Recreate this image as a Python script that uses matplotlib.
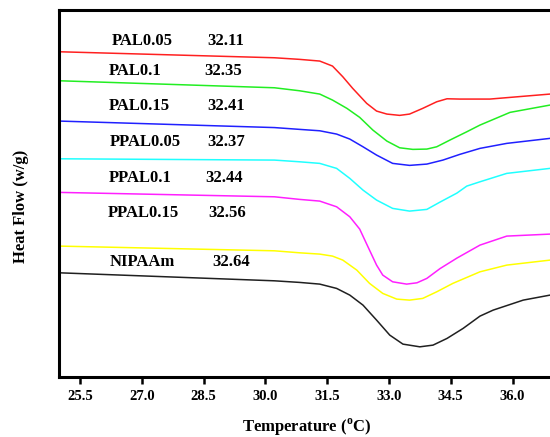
import numpy as np
import matplotlib
matplotlib.use("Agg")
import matplotlib.pyplot as plt

plt.rcParams['font.family'] = 'Liberation Serif'
plt.rcParams['font.weight'] = 'bold'
plt.rcParams['mathtext.fontset'] = 'custom'
plt.rcParams['mathtext.rm'] = 'Liberation Serif:bold'
plt.rcParams['mathtext.bf'] = 'Liberation Serif:bold'

# DSC curves (temperature in C, heat flow in arbitrary offset units)
t_pal005 = [25.0, 30.22, 30.83, 31.32, 31.63, 31.88, 32.12, 32.46, 32.70, 32.95, 33.26, 33.50, 33.82, 34.16, 34.41, 34.72, 35.45, 36.91]
h_pal005 = [3.253, 3.193, 3.177, 3.16, 3.11, 3.003, 2.887, 2.737, 2.66, 2.63, 2.617, 2.63, 2.687, 2.753, 2.783, 2.78, 2.78, 2.83]

t_pal01 = [25.0, 30.22, 30.83, 31.32, 31.63, 31.98, 32.29, 32.61, 32.95, 33.26, 33.58, 33.92, 34.16, 34.48, 34.89, 35.21, 35.94, 36.91]
h_pal01 = [2.963, 2.893, 2.863, 2.83, 2.77, 2.687, 2.597, 2.47, 2.36, 2.293, 2.277, 2.28, 2.303, 2.37, 2.453, 2.52, 2.647, 2.72]

t_pal015 = [25.0, 30.22, 30.83, 31.32, 31.73, 32.05, 32.37, 32.70, 33.09, 33.50, 33.92, 34.31, 34.72, 35.21, 35.86, 36.91]
h_pal015 = [2.56, 2.495, 2.477, 2.463, 2.43, 2.38, 2.303, 2.22, 2.137, 2.117, 2.13, 2.17, 2.227, 2.287, 2.337, 2.387]

t_ppal005 = [25.0, 30.22, 30.83, 31.32, 31.73, 32.05, 32.37, 32.70, 33.09, 33.50, 33.92, 34.24, 34.65, 34.89, 35.21, 35.86, 36.91]
h_ppal005 = [2.183, 2.17, 2.153, 2.137, 2.087, 1.987, 1.87, 1.77, 1.687, 1.66, 1.677, 1.75, 1.84, 1.91, 1.953, 2.037, 2.087]

t_ppal01 = [25.0, 30.22, 30.83, 31.32, 31.73, 32.05, 32.29, 32.46, 32.70, 32.85, 33.09, 33.43, 33.68, 33.92, 34.24, 34.65, 35.21, 35.86, 36.91]
h_ppal01 = [1.847, 1.803, 1.777, 1.76, 1.703, 1.603, 1.48, 1.33, 1.12, 1.02, 0.953, 0.93, 0.943, 0.987, 1.085, 1.19, 1.32, 1.41, 1.43]

t_ppal015 = [25.0, 30.22, 30.83, 31.32, 31.63, 31.88, 32.22, 32.53, 32.85, 33.19, 33.50, 33.82, 34.16, 34.55, 35.21, 35.86, 36.91]
h_ppal015 = [1.31, 1.263, 1.243, 1.23, 1.21, 1.17, 1.07, 0.937, 0.837, 0.78, 0.77, 0.787, 0.853, 0.937, 1.053, 1.12, 1.17]

t_nipaam = [25.0, 30.22, 30.83, 31.32, 31.73, 32.05, 32.37, 32.70, 33.02, 33.34, 33.75, 34.07, 34.41, 34.80, 35.21, 35.53, 36.26, 36.91]
h_nipaam = [1.043, 0.963, 0.947, 0.93, 0.887, 0.82, 0.72, 0.57, 0.42, 0.33, 0.303, 0.32, 0.387, 0.487, 0.61, 0.67, 0.77, 0.82]

names = ['PAL0.05', 'PAL0.1', 'PAL0.15', 'PPAL0.05', 'PPAL0.1', 'PPAL0.15', 'NIPAAm']
lcst = ['32.11', '32.35', '32.41', '32.37', '32.44', '32.56', '32.64']
colors = ['#ff2020', '#22ee22', '#2020ff', '#20ffff', '#ff20ff', '#ffff00', '#202020']
temps = [t_pal005, t_pal01, t_pal015, t_ppal005, t_ppal01, t_ppal015, t_nipaam]
flows = [h_pal005, h_pal01, h_pal015, h_ppal005, h_ppal01, h_ppal015, h_nipaam]

# label positions
name_x = [26.26, 26.21, 26.21, 26.23, 26.21, 26.17, 26.21]
val_x = [28.58, 28.53, 28.60, 28.58, 28.55, 28.62, 28.72]
lab_y = [3.363, 3.063, 2.713, 2.353, 1.987, 1.637, 1.153]

fig = plt.figure(figsize=(5.5, 4.37), dpi=100)
ax = fig.add_axes([0.108, 0.137, 0.892, 0.84])

for t, h, c in zip(temps, flows, colors):
    ax.plot(t, h, color=c, lw=1.1)

for i in range(len(names)):
    ax.text(name_x[i], lab_y[i], names[i], fontsize=12, fontweight='bold', ha='left', va='center')
    ax.text(val_x[i], lab_y[i], lcst[i], fontsize=12, fontweight='bold', ha='left', va='center')

ax.set_xlim(25.0, 36.91)
ax.set_ylim(0, 3.67)
ax.set_xticks([25.5, 27.0, 28.5, 30.0, 31.5, 33.0, 34.5, 36.0])
ax.set_xticklabels(['25.5', '27.0', '28.5', '30.0', '31.5', '33.0', '34.5', '36.0'])
ax.set_yticks([])
ax.tick_params(axis='x', direction='out', length=5, width=1.8, labelsize=10.5, pad=4)
for lab in ax.get_xticklabels():
    lab.set_fontweight('bold')
for s in ['left', 'bottom', 'top']:
    ax.spines[s].set_linewidth(2.2)
ax.spines['right'].set_visible(False)

fig.text(307/550, 1 - 427/437, r'Temperature ($^{\mathbf{o}}$C)', fontsize=12, fontweight='bold',
         ha='center', va='center')
fig.text(21/550, 1 - 206/437, 'Heat Flow (w/g)', fontsize=12, fontweight='bold',
         rotation=90, ha='center', va='center')

plt.savefig('out.png', dpi=100)
